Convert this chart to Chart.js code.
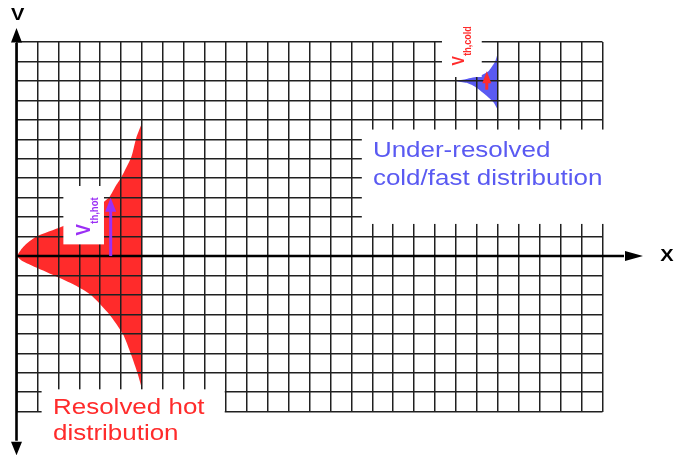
<!DOCTYPE html>
<html>
<head>
<meta charset="utf-8">
<script src="https://cdn.jsdelivr.net/npm/chart.js@4/dist/chart.umd.min.js"></script>
<style>
  html, body { margin: 0; padding: 0; background: #fff; overflow: hidden; }
  #wrap { width: 674px; height: 458px; position: relative; }
</style>
</head>
<body>
<div id="wrap"><canvas id="c" width="674" height="458"></canvas></div>
<script>
// Phase-space mesh: x (position) columns and v (velocity) rows
const xRange = [0, 28];
const vRange = [-8, 11];

// Hot, resolved distribution: f(v) spreads leftwards from the column x = hotEdge
const hotEdge = 6;
const hotV     = [6.85, 6.1, 5.1, 4.05, 3.65, 3.03, 2.8, 2.4, 2.0, 1.5, 1.0, 0.6, 0.3, 0.0, -0.26, -0.5, -1.0, -1.5, -2.0, -3.0, -4.0, -5.05, -6.05, -6.85];
const hotWidth = [0.0, 0.27, 0.51, 0.99, 1.23, 1.56, 1.8, 2.25, 2.85, 3.85, 5.05, 5.55, 5.8, 5.96, 5.72, 5.25, 4.2, 3.2, 2.44, 1.56, 0.92, 0.53, 0.21, 0.0];

// Cold, fast distribution: narrow beam centred near v = 9
const coldEdge = 23;
const coldV     = [10.45, 10.0, 9.5, 9.25, 9.1, 9.0, 8.9, 8.7, 8.3, 7.9, 7.5];
const coldWidth = [0.0, 0.13, 0.45, 0.9, 1.5, 1.96, 1.5, 1.09, 0.61, 0.21, 0.0];

// Thermal-velocity arrows: [x, v from, v to]
const vThHot  = [4.5, 0.0, 3.0];
const vThCold = [22.47, 8.55, 9.5];

const RED = '#ff2b2b';
const BLUE = '#5a5af2';
const PURPLE = '#9b2ff5';
const FONT = '"Liberation Sans", Arial, sans-serif';
const SX = 1.18; // text is drawn slightly wide

const toPoints = (edge, vs, ws) => vs.map((v, i) => ({ x: edge - ws[i], y: v }));

function wideText(ctx, text, x, y, font, color, align) {
  ctx.save();
  ctx.translate(x, y);
  ctx.scale(SX, 1);
  ctx.font = font;
  ctx.fillStyle = color;
  ctx.textAlign = align || 'left';
  ctx.textBaseline = 'alphabetic';
  ctx.fillText(text, 0, 0);
  ctx.restore();
}

// rotated "V" with a subscript, reading bottom to top
function thermalLabel(ctx, x, y, mainFont, subFont, sub, subDrop, color) {
  ctx.save();
  ctx.translate(x, y);
  ctx.scale(SX, 1);
  ctx.rotate(-Math.PI / 2);
  ctx.fillStyle = color;
  ctx.textBaseline = 'alphabetic';
  ctx.font = mainFont;
  ctx.fillText('V', 0, 0);
  const w = ctx.measureText('V').width;
  ctx.font = subFont;
  ctx.fillText(sub, w + 0.5, subDrop);
  ctx.restore();
}

function arrowUp(ctx, x, yFrom, yTo, head, half, width, color) {
  ctx.save();
  ctx.strokeStyle = color;
  ctx.fillStyle = color;
  ctx.lineWidth = width;
  ctx.beginPath();
  ctx.moveTo(x, yFrom);
  ctx.lineTo(x, yTo + head - 1);
  ctx.stroke();
  ctx.beginPath();
  ctx.moveTo(x, yTo);
  ctx.lineTo(x - half, yTo + head);
  ctx.lineTo(x + half, yTo + head);
  ctx.closePath();
  ctx.fill();
  ctx.restore();
}

const overlay = {
  id: 'overlay',
  afterDraw(chart) {
    const ctx = chart.ctx;
    const xs = chart.scales.x, ys = chart.scales.y;
    const px = v => xs.getPixelForValue(v);
    const py = v => ys.getPixelForValue(v);

    // white panels that carry the annotations
    ctx.save();
    ctx.fillStyle = '#ffffff';
    [[16.5, 29.5, 1.65, 6.5], [1.2, 9.95, -12, -6.85], [2.24, 4.18, 0.6, 3.6], [20.33, 22.23, 9.2, 12.2]]
      .forEach(([x0, x1, v0, v1]) => {
        ctx.fillRect(px(x0), py(v1), px(x1) - px(x0), py(v0) - py(v1));
      });
    ctx.restore();

    // axes with arrow heads
    const x0 = px(0), y0 = py(0);
    const top = py(vRange[1]), bottom = py(vRange[0]) + 30, right = px(xRange[1]) + 22.5;
    ctx.save();
    ctx.strokeStyle = '#000';
    ctx.fillStyle = '#000';
    ctx.lineWidth = 2.6;
    ctx.beginPath();
    ctx.moveTo(x0, top + 1); ctx.lineTo(x0, bottom - 1);
    ctx.moveTo(x0, y0); ctx.lineTo(right - 1, y0);
    ctx.stroke();
    ctx.beginPath();
    ctx.moveTo(x0, top - 14); ctx.lineTo(x0 - 5.5, top + 0.5); ctx.lineTo(x0 + 5.5, top + 0.5); ctx.closePath();
    ctx.moveTo(x0, bottom + 13.5); ctx.lineTo(x0 - 5.5, bottom); ctx.lineTo(x0 + 5.5, bottom); ctx.closePath();
    ctx.moveTo(right + 18, y0); ctx.lineTo(right, y0 - 5); ctx.lineTo(right, y0 + 5); ctx.closePath();
    ctx.fill();
    ctx.restore();

    wideText(ctx, 'V', x0 + 1.3, top - 22, 'bold 17px ' + FONT, '#000', 'center');
    wideText(ctx, 'X', right + 42, y0 + 5, 'bold 17px ' + FONT, '#000', 'center');

    // thermal velocity arrows
    arrowUp(ctx, px(vThHot[0]), py(vThHot[1]), py(vThHot[2]), 14, 5.5, 3, PURPLE);
    arrowUp(ctx, px(vThCold[0]), py(vThCold[1]), py(vThCold[2]), 12, 4.5, 3, RED);

    thermalLabel(ctx, px(3.535), py(1.05), 'bold 17px ' + FONT, 'bold 9.5px ' + FONT, 'th,hot', 6.5, PURPLE);
    thermalLabel(ctx, px(21.4), py(9.79), 'bold 14px ' + FONT, 'bold 9px ' + FONT, 'th,cold', 5.5, RED);

    // captions
    const cap = '22px ' + FONT;
    wideText(ctx, 'Under-resolved', px(17.03), py(5.07), cap, BLUE);
    wideText(ctx, 'cold/fast distribution', px(17.03), py(3.65), cap, BLUE);
    wideText(ctx, 'Resolved hot', px(1.745), py(-8.12), cap, RED);
    wideText(ctx, 'distribution', px(1.745), py(-9.46), cap, RED);
  }
};

const gridStyle = { color: '#202020', lineWidth: 1.5, drawTicks: false, z: 1 };

new Chart(document.getElementById('c').getContext('2d'), {
  type: 'line',
  data: {
    datasets: [
      {
        data: toPoints(hotEdge, hotV, hotWidth),
        fill: 'shape', backgroundColor: RED, borderColor: 'rgba(0,0,0,0)', borderWidth: 0,
        pointRadius: 0, tension: 0.2
      },
      {
        data: toPoints(coldEdge, coldV, coldWidth),
        fill: 'shape', backgroundColor: BLUE, borderColor: 'rgba(0,0,0,0)', borderWidth: 0,
        pointRadius: 0, tension: 0.2
      }
    ]
  },
  options: {
    responsive: false,
    animation: false,
    events: [],
    layout: { padding: { left: 16.5, top: 42, right: 71.5, bottom: 46.3 } },
    plugins: { legend: { display: false }, tooltip: { enabled: false } },
    scales: {
      x: {
        type: 'linear', min: xRange[0], max: xRange[1],
        ticks: { display: false, stepSize: 1 },
        grid: gridStyle, border: { display: false },
        afterFit(s) { s.height = 0; }
      },
      y: {
        type: 'linear', min: vRange[0], max: vRange[1],
        ticks: { display: false, stepSize: 1 },
        grid: gridStyle, border: { display: false },
        afterFit(s) { s.width = 0; }
      }
    }
  },
  plugins: [overlay]
});
</script>
</body>
</html>
